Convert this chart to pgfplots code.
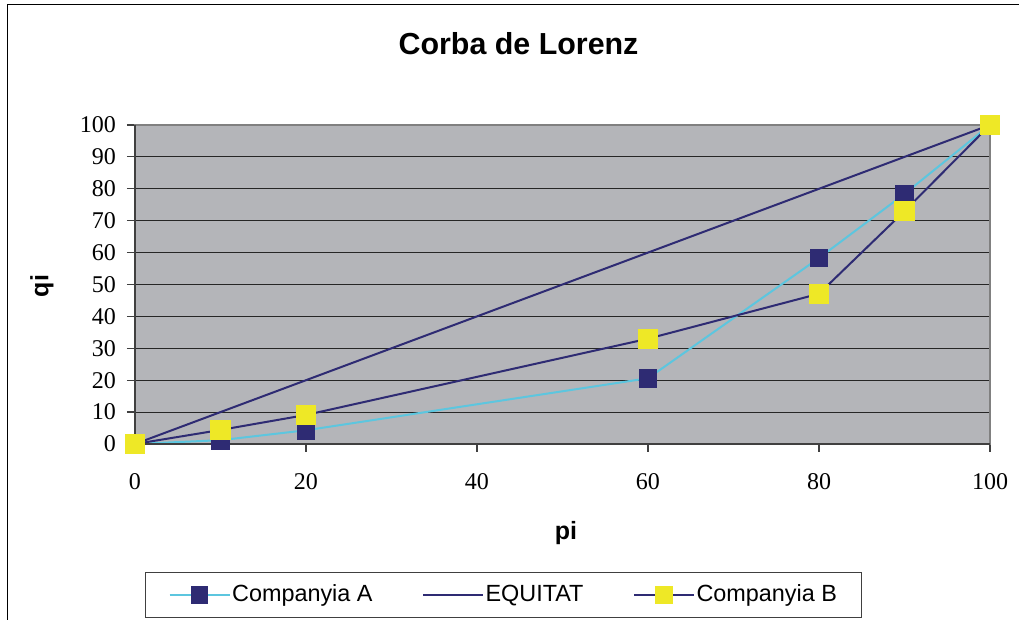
\documentclass[border=0pt]{standalone}
\usepackage{fontspec}
\setmainfont{Liberation Sans}
\newfontfamily\tickfont{Liberation Serif}
\usepackage{pgfplots}
\pgfplotsset{compat=1.18}
\definecolor{plotgray}{HTML}{B4B5B9}
\definecolor{navy}{HTML}{2E2B73}
\definecolor{cyanline}{HTML}{5CC6DF}
\definecolor{yellowmk}{HTML}{EEE826}
\definecolor{framegray}{HTML}{808080}

\begin{document}
\begin{tikzpicture}
\begin{axis}[
    scale only axis,
    width=427.5pt, height=159.5pt,
    xmin=0, xmax=100, ymin=0, ymax=100,
    xtick={0,20,...,100}, ytick={0,10,...,100},
    tick pos=left,
    tick align=outside,
    major tick length=4pt,
    tick style={black!75, line width=0.6pt},
    ymajorgrids,
    grid style={black!85, line width=0.5pt},
    axis background/.style={fill=plotgray},
    axis line style={framegray, line width=1pt},
    clip=false,
    ticklabel style={font=\tickfont\fontsize{12}{12}\selectfont},
    /pgf/number format/assume math mode=true,
    yticklabel style={xshift=-2pt},
    xticklabel style={yshift=-7pt},
    title={Corba de Lorenz},
    title style={at={(rel axis cs:0.4486,1.216)}, anchor=center,
        font=\bfseries\fontsize{15.2}{18}\selectfont},
    xlabel={pi},
    xlabel style={at={(rel axis cs:0.504,-0.279)}, anchor=center,
        font=\bfseries\fontsize{12.5}{14}\selectfont},
    ylabel={qi},
    ylabel style={at={(rel axis cs:-0.1088,0.4953)}, anchor=center,
        font=\bfseries\fontsize{12.5}{14}\selectfont},
    legend columns=3,
    legend style={at={(rel axis cs:0.0117,-0.4013)}, anchor=north west,
        draw=black!75, line width=0.6pt, inner xsep=11.5pt, inner ysep=4.2pt,
        font=\fontsize{11.7}{13}\selectfont,
        /tikz/every even column/.append style={column sep=24pt},
        nodes={inner xsep=0.75pt, inner ysep=2pt}},
    legend image code/.code={
        \draw[mark repeat=2, mark phase=2, #1, mark size=3.8pt]
            plot coordinates {(0pt,0pt) (15pt,0pt) (30pt,0pt)};},
]
% Companyia A
\addplot[cyanline, line width=1pt, mark=square*, mark size=4.2pt,
    mark options={navy, fill=navy}] coordinates {
    (0,0) (10,1.2) (20,4.3) (60,20.6) (80,58.3) (90,78.4) (100,100)
};
% Equitat
\addplot[navy, line width=1pt] coordinates {
    (0,0) (10,10) (20,20) (60,60) (80,80) (90,90) (100,100)
};
% Companyia B
\addplot[navy, line width=1pt, mark=square*, mark size=4.6pt,
    mark options={yellowmk, fill=yellowmk}] coordinates {
    (0,0) (10,4.4) (20,9.1) (60,33.0) (80,47.1) (90,73.0) (100,100)
};
\addlegendentry{Companyia A}
\addlegendentry{EQUITAT}
\addlegendentry{Companyia B}

% darker left and bottom axis lines
\draw[black!75, line width=1pt] (rel axis cs:0,1) -- (rel axis cs:0,0) -- (rel axis cs:1,0);
\end{axis}

% page frame, in pixels of the reference
\begin{scope}[shift={(current axis.south west)}, xshift=-67.5pt, yshift=222pt, x=0.5pt, y=-0.5pt]
\pgfresetboundingbox
\path[use as bounding box] (0,0) rectangle (1019,620);
\draw[black, line width=0.8pt] (7.5,620) -- (7.5,4.5) -- (1019,4.5);
\end{scope}
\end{tikzpicture}
\end{document}
